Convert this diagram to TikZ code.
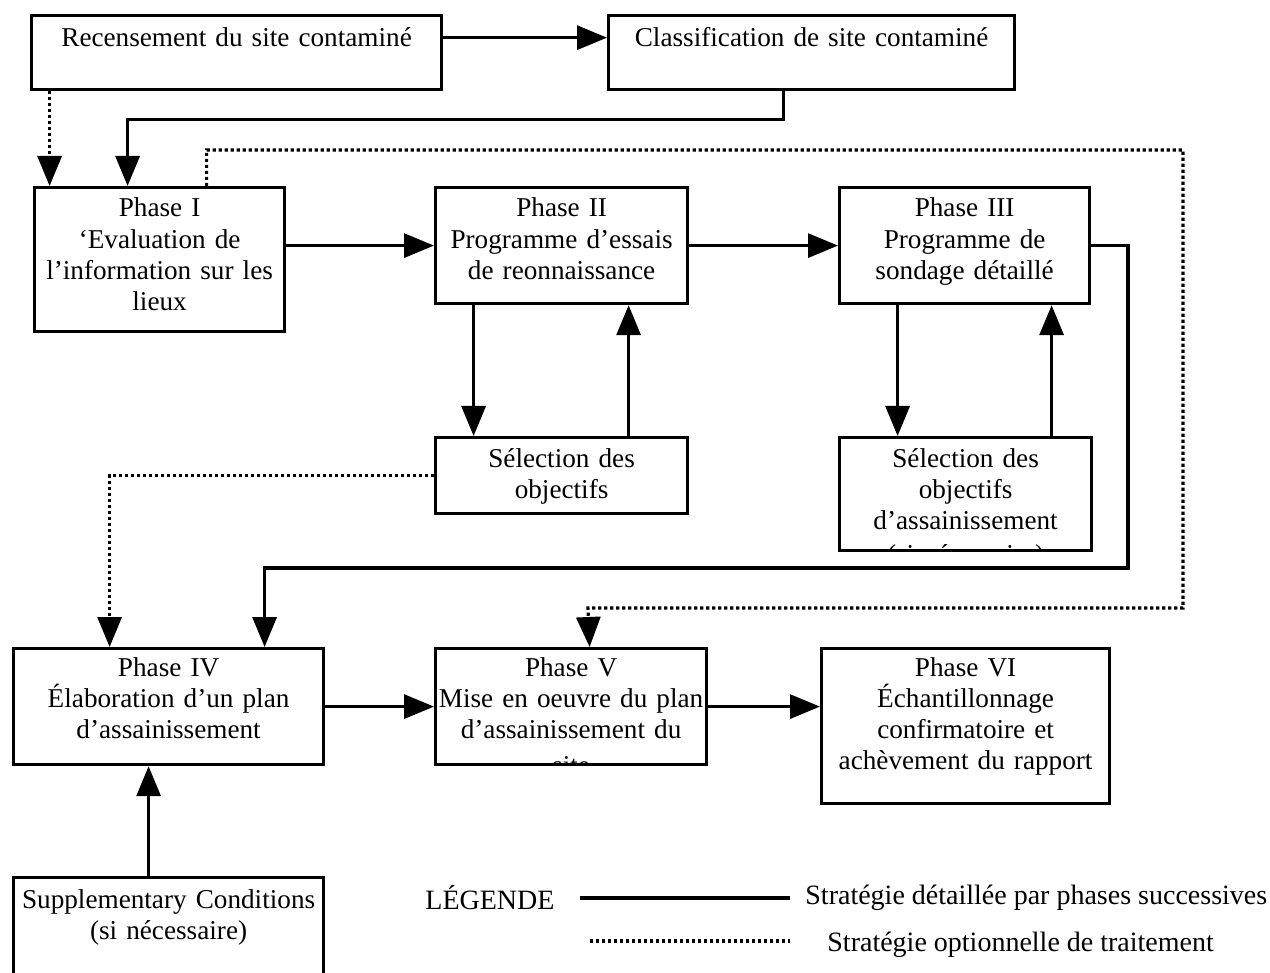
\documentclass[tikz,border=0pt]{standalone}
\usepackage{fontspec}
\setmainfont{Liberation Serif}
\usetikzlibrary{arrows.meta,positioning}

\tikzset{
  bloc/.style={draw, line width=1.6pt, inner sep=0pt, anchor=north west},
  texte/.style={anchor=base, align=center, inner sep=0pt, text width=#1,
    font=\fontsize{13.6}{15.6}\selectfont},
  texte/.default=150pt,
  plein/.style={line width=1.6pt, -{Triangle[length=15pt,width=12pt]}},
  pointille/.style={line width=1.6pt, dash pattern=on 1.6pt off 1.4pt,
    -{Triangle[length=15pt,width=12pt]}},
  legende/.style={anchor=west, inner sep=0pt, font=\fontsize{14}{15.5}\selectfont}
}

\begin{document}
\begin{tikzpicture}[x=0.5pt,y=-0.5pt]
        \clip (0,0) rectangle (1270,973);
        \begin{scope}
            \node[bloc, minimum width=205pt, minimum height=37pt] (rec) at (30,14) {};
            \node[bloc, minimum width=203pt, minimum height=37pt] (cla) at (607,14) {};
            \node[bloc, minimum width=125pt, minimum height=72pt] (ph1) at (33,186) {};
            \node[bloc, minimum width=126pt, minimum height=58pt] (ph2) at (434,186) {};
            \node[bloc, minimum width=125pt, minimum height=58pt] (ph3) at (838,186) {};
            \node[bloc, minimum width=126pt, minimum height=38pt] (sel2) at (434,436) {};
            \node[bloc, minimum width=126pt, minimum height=56.5pt] (sel3) at (838,436) {};
            \node[bloc, minimum width=155pt, minimum height=58pt] (ph4) at (12,647) {};
            \node[bloc, minimum width=135.5pt, minimum height=58pt] (ph5) at (434,647) {};
            \node[bloc, minimum width=144pt, minimum height=77.5pt] (ph6) at (820,647) {};
            \node[bloc, minimum width=155pt, minimum height=60pt] (sup) at (12,876) {};
        \end{scope}
        \begin{scope}
            \node[texte=200pt] (rect) at ([yshift=-16.5pt]rec.north) {Recensement du site contaminé};
            \node[texte=200pt] (clat) at ([yshift=-16.5pt]cla.north) {Classification de site contaminé};
            \node[texte] (ph1t) at ([yshift=-15.5pt]ph1.north) {Phase I\\‘Evaluation de\\l’information sur les\\lieux};
            \node[texte] (ph2t) at ([yshift=-15.5pt]ph2.north) {Phase II\\Programme d’essais\\de reonnaissance};
            \node[texte] (ph3t) at ([yshift=-15.5pt]ph3.north) {Phase III\\Programme de\\sondage détaillé};
            \node[texte] (sel2t) at ([yshift=-15.5pt]sel2.north) {Sélection des\\objectifs};
            \begin{scope}
                \clip ([xshift=0.8pt,yshift=-0.8pt]sel3.north west) rectangle ([xshift=-0.8pt,yshift=0.8pt]sel3.south east);
                \node[texte] (sel3t) at ([yshift=-15.5pt]sel3.north) {Sélection des\\objectifs\\d’assainissement\\[1.2pt](si nécessaire)};
            \end{scope}
            \node[texte=155pt] (ph4t) at ([yshift=-14.5pt]ph4.north) {Phase IV\\Élaboration d’un plan\\d’assainissement};
            \begin{scope}
                \clip ([xshift=0.8pt,yshift=-0.8pt]ph5.north west) rectangle ([xshift=-0.8pt,yshift=0.8pt]ph5.south east);
                \node[texte] (ph5t) at ([yshift=-14.5pt]ph5.north) {Phase V\\Mise en oeuvre du plan\\d’assainissement du\\[2.5pt]site};
            \end{scope}
            \node[texte] (ph6t) at ([yshift=-14.5pt]ph6.north) {Phase VI\\Échantillonnage\\confirmatoire et\\achèvement du rapport};
            \node[texte=155pt] (supt) at ([yshift=-16pt]sup.north) {Supplementary Conditions\\(si nécessaire)};
        \end{scope}
        % liens
        \draw[plein] (rec.east |- rect.east) -- (cla.west |- rect.east);
        \draw[plein] ([xshift=-14pt]cla.south) -- ++(0,28) -| ([xshift=-16pt]ph1.north);
        \draw[pointille] ([xshift=-93.5pt]rec.south) -- ([xshift=-93.5pt]rec.south |- ph1.north);
        \draw[pointille] ([xshift=23.5pt]ph1.north) |- (1183,150) |- (588,608) -- ([xshift=9.25pt]ph5.north);
        \draw[plein] (ph1.east |- ph2.west) -- (ph2.west);
        \draw[plein] (ph2.east) -- (ph3.west);
        \draw[plein] (ph3.east) -| (1128,568) -| ([xshift=48pt]ph4.north);
        \draw[plein] ([xshift=-44pt]ph2.south) -- ([xshift=-44pt]sel2.north);
        \draw[plein] ([xshift=33.5pt]sel2.north) -- ([xshift=33.5pt]ph2.south);
        \draw[plein] ([xshift=-33.5pt]ph3.south) -- ([xshift=-34pt]sel3.north);
        \draw[plein] ([xshift=43pt]sel3.north) -- ([xshift=43.5pt]ph3.south);
        \draw[pointille] (sel2.west) -| ([xshift=-29.5pt]ph4.north);
        \draw[plein] (ph4.east) -- (ph5.west);
        \draw[plein] (ph5.east) -- (ph5.east -| ph6.west);
        \draw[plein] ([xshift=-10pt]sup.north) -- ([xshift=-10pt]ph4.south);
        % legende
        \node[legende] (leg) at (425,898) {LÉGENDE};
        \node[legende] (leg1) at (805,898) {Stratégie détaillée par phases successives};
        \node[legende] (leg2) at (827,945) {Stratégie optionnelle de traitement};
        \coordinate (l1a) at (580,898);
        \coordinate (l1b) at (790,898);
        \coordinate (l2a) at (590,941);
        \coordinate (l2b) at (790,941);
        \draw[line width=1.6pt] (l1a) -- (l1b);
        \draw[line width=1.6pt, dash pattern=on 1.6pt off 1.4pt] (l2a) -- (l2b);
    \end{tikzpicture}
\end{document}
